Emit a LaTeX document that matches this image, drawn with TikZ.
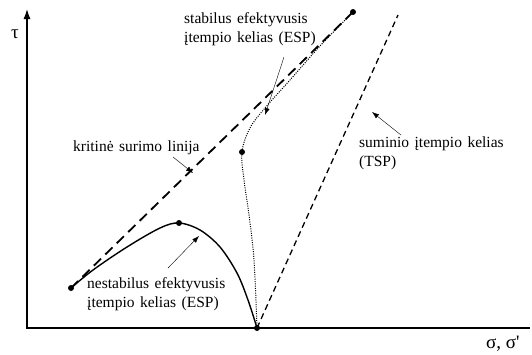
\documentclass[tikz,border=0pt]{standalone}
\usepackage{fontspec}
\setmainfont{Liberation Serif}
\usetikzlibrary{arrows.meta}
\newcommand{\pathfont}{\fontsize{15.5bp}{19bp}\selectfont\spaceskip=5.5bp plus 1bp minus 1bp\relax}

\begin{document}
\begin{tikzpicture}[x=1bp, y=-1bp]
    % Define colours
    \definecolor{lineColour}{HTML}{000000}

    % Define styles
    \tikzset{
        axisline/.style={line width=2.5bp, draw=lineColour},
        critline/.style={line width=1.8bp, dash pattern=on 10bp off 6bp},
        tspline/.style={line width=1.3bp, dash pattern=on 6bp off 4bp},
        stableline/.style={line width=1bp, dash pattern=on 1bp off 1.3bp},
        unstableline/.style={line width=1.4bp},
        pointer/.style={thin, -{Latex[length=7bp, width=5bp]}},
        caption/.style={font=\pathfont, inner sep=0pt, align=left, anchor=west},
        symbol/.style={font=\fontsize{19bp}{19bp}\selectfont, inner sep=0pt}
    }

    % Fix the page size
    \useasboundingbox (0,0) rectangle (532,354);

    % Define coordinates
    \coordinate (O) at (257,328);
    \coordinate (U) at (71,288);
    \coordinate (P) at (179,223);
    \coordinate (S) at (242,152);
    \coordinate (T) at (353,12);
    \coordinate (Q) at (398,15);

    % Draw axes
    \draw[axisline, -{Latex[length=11bp, width=7bp]}] (27,329) -- (27,8);
    \draw[axisline] (25.75,328) -- (530,328);
    \node[symbol] (tau) at (15,34) {τ};
    \node[symbol, anchor=west] (sigma) at (486,344) {σ, σ\textquotesingle};

    % Draw critical state line and total stress path
    \draw[critline] (U) -- (T);
    \draw[tspline] (O) -- (Q);

    % Draw unstable effective stress path
    \draw[unstableline] plot[smooth, tension=0.55] coordinates {(U) (93,270) (127,247) (160,228) (P) (200,230) (220,247) (237,273) (248,300) (O)};

    % Draw stable effective stress path
    \draw[stableline] plot[smooth, tension=0.6] coordinates {(O) (254,260) (249,215) (244,180) (S) (250,128) (265,108) (290,80) (320,46) (T)};

    % Draw the points
    \foreach \p in {U,P,S,T,O}
        \fill[lineColour] (\p) circle (3bp);

    % Label the paths
    \node[caption] (stable) at (184,29) {stabilus efektyvusis\\įtempio kelias (ESP)};
    \node[caption] (crit) at (73,148) {kritinė surimo linija};
    \node[caption] (tsp) at (359,153) {suminio įtempio kelias\\(TSP)};
    \node[caption] (unstable) at (87,294) {nestabilus efektyvusis\\įtempio kelias (ESP)};

    % Draw the pointers
    \coordinate (stableTip) at (265,115);
    \coordinate (critTip) at (193,173);
    \coordinate (tspTip) at (372,112);
    \coordinate (unstableTip) at (199,236);
    \draw[pointer] (284,57) -- (stableTip);
    \draw[pointer] (173,157) -- (critTip);
    \draw[pointer] (401,135) -- (tspTip);
    \draw[pointer] (168,268) -- (unstableTip);

\end{tikzpicture}
\end{document}
